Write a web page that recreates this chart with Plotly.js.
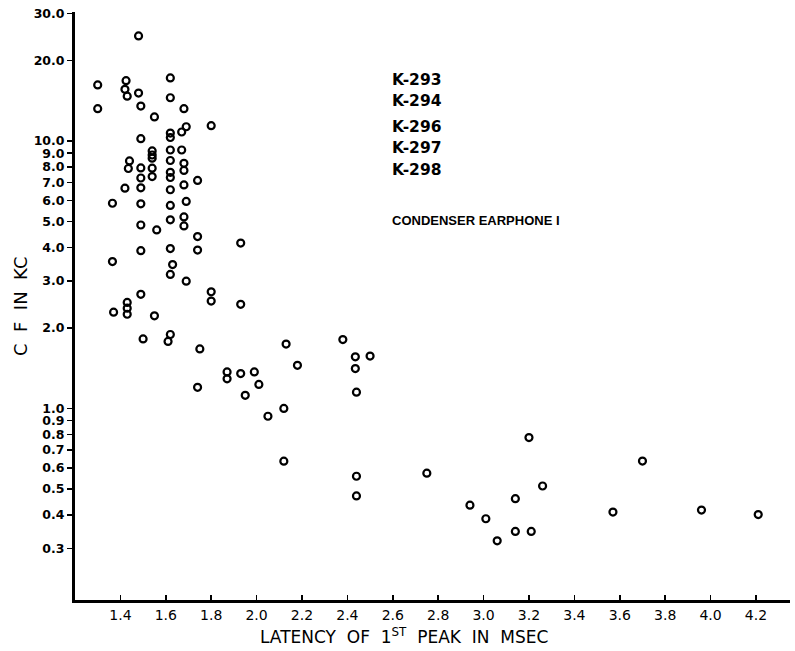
<!DOCTYPE html>
<html>
<head>
<meta charset="utf-8">
<script src="https://cdn.plot.ly/plotly-3.0.1.min.js"></script>
<style>html,body{margin:0;padding:0;background:#fff;}#chart{width:795px;height:651px;}</style>
</head>
<body>
<div id="chart"></div>
<script>
// Latency of 1st peak (msec)
const latency = [
  1.48, 1.30, 1.425, 1.42, 1.43, 1.48, 1.62, 1.62, 1.30, 1.49,
  1.68, 1.55, 1.80, 1.69, 1.67, 1.62, 1.62, 1.49, 1.54, 1.54,
  1.54, 1.62, 1.67, 1.62, 1.44, 1.435, 1.49, 1.54, 1.68, 1.68,
  1.62, 1.62, 1.49, 1.54, 1.68, 1.74, 1.42, 1.49, 1.62, 1.365,
  1.49, 1.62, 1.69, 1.62, 1.68, 1.68, 1.49, 1.56, 1.74, 1.93,
  1.49, 1.62, 1.74, 1.365, 1.63, 1.62, 1.69, 1.49, 1.80, 1.80,
  1.93, 1.43, 1.43, 1.43, 1.37, 1.55, 1.50, 1.62, 1.61, 1.75,
  2.13, 2.38, 2.435, 2.50, 2.435, 2.18, 1.87, 1.87, 1.93, 1.99,
  2.01, 1.74, 1.95, 2.44, 2.12, 2.05, 2.12, 2.44, 2.44, 3.20,
  2.75, 3.26, 3.14, 2.94, 3.01, 3.14, 3.21, 3.06, 3.70, 3.57,
  3.96, 4.21
];
// Characteristic frequency (kc)
const cf = [
  24.7, 16.2, 16.8, 15.6, 14.7, 15.1, 17.2, 14.5, 13.2, 13.5,
  13.2, 12.3, 11.4, 11.3, 10.8, 10.7, 10.3, 10.2, 9.18, 8.86,
  8.62, 9.25, 9.25, 8.45, 8.42, 7.89, 7.93, 7.91, 8.25, 7.76,
  7.63, 7.30, 7.27, 7.36, 6.85, 7.12, 6.66, 6.68, 6.57, 5.85,
  5.82, 5.74, 5.94, 5.07, 5.20, 4.81, 4.85, 4.65, 4.39, 4.15,
  3.89, 3.96, 3.91, 3.54, 3.45, 3.17, 2.99, 2.67, 2.73, 2.52,
  2.45, 2.49, 2.37, 2.25, 2.29, 2.22, 1.82, 1.89, 1.78, 1.67,
  1.74, 1.81, 1.56, 1.57, 1.41, 1.45, 1.37, 1.29, 1.35, 1.37,
  1.23, 1.20, 1.12, 1.15, 1.00, 0.935, 0.635, 0.558, 0.471, 0.778,
  0.573, 0.513, 0.460, 0.435, 0.387, 0.347, 0.347, 0.320, 0.636, 0.410,
  0.417, 0.401
];
const xTickVals = [1.4, 1.6, 1.8, 2.0, 2.2, 2.4, 2.6, 2.8, 3.0, 3.2, 3.4, 3.6, 3.8, 4.0, 4.2];
const xTickText = ["1.4","1.6","1.8","2.0","2.2","2.4","2.6","2.8","3.0","3.2","3.4","3.6","3.8","4.0","4.2"];
const yTickVals = [30, 20, 10, 9, 8, 7, 6, 5, 4, 3, 2, 1, 0.9, 0.8, 0.7, 0.6, 0.5, 0.4, 0.3];
const yTickText = ["30.0","20.0","10.0","9.0","8.0","7.0","6.0","5.0","4.0","3.0","2.0","1.0","0.9","0.8","0.7","0.6","0.5","0.4","0.3"];
const units = ["K-293", "K-294", "K-296", "K-297", "K-298"];
const condition = "CONDENSER EARPHONE I";

const trace = {
  x: latency, y: cf, type: 'scatter', mode: 'markers',
  marker: {symbol: 'circle-open', size: 7, color: '#000', line: {color: '#000', width: 2.2}},
  hoverinfo: 'x+y'
};

const unitY = [0.884, 0.849, 0.804, 0.769, 0.731];
const annotations = units.map((u, i) => ({
  text: u, xref: 'paper', yref: 'paper', x: 0.441, y: unitY[i],
  xanchor: 'left', yanchor: 'middle', showarrow: false,
  font: {family: 'DejaVu Sans', size: 15.5, color: '#000', weight: 'bold'}
}));
annotations.push({
  text: condition, xref: 'paper', yref: 'paper', x: 0.441, y: 0.645,
  xanchor: 'left', yanchor: 'middle', showarrow: false,
  font: {family: 'Liberation Sans', size: 13, color: '#000', weight: 'bold'}
});
annotations.push({
  text: 'LATENCY  OF  1<sup>ST</sup>  PEAK  IN  MSEC', xref: 'paper', yref: 'paper',
  x: 0.46, y: -0.061, xanchor: 'center', yanchor: 'middle', showarrow: false,
  font: {family: 'DejaVu Sans', size: 17, color: '#000'}
});
annotations.push({
  text: 'C  F  IN  KC', xref: 'paper', yref: 'paper', textangle: -90,
  x: -0.077, y: 0.5, xanchor: 'center', yanchor: 'middle', showarrow: false,
  font: {family: 'DejaVu Sans', size: 18, color: '#000'}
});

const layout = {
  width: 795, height: 651,
  margin: {l: 75, r: 5, t: 12, b: 51, pad: 0},
  paper_bgcolor: '#fff', plot_bgcolor: '#fff',
  showlegend: false,
  xaxis: {
    range: [1.2, 4.35], showgrid: false, zeroline: false,
    showline: true, linecolor: '#000', linewidth: 3,
    ticks: 'inside', ticklen: 5, tickwidth: 1.5, tickcolor: '#000',
    tickvals: xTickVals, ticktext: xTickText,
    tickfont: {family: 'DejaVu Sans', size: 14, color: '#000'}
  },
  yaxis: {
    type: 'log', range: [-0.716, 1.482], showgrid: false, zeroline: false,
    showline: true, linecolor: '#000', linewidth: 3,
    ticks: 'outside', ticklen: 5, tickwidth: 1.5, tickcolor: '#000',
    tickvals: yTickVals, ticktext: yTickText,
    tickfont: {family: 'DejaVu Sans', size: 12.5, color: '#000', weight: 'bold'}
  },
  annotations: annotations
};

Plotly.newPlot('chart', [trace], layout, {displayModeBar: false, staticPlot: true});
</script>
</body>
</html>
